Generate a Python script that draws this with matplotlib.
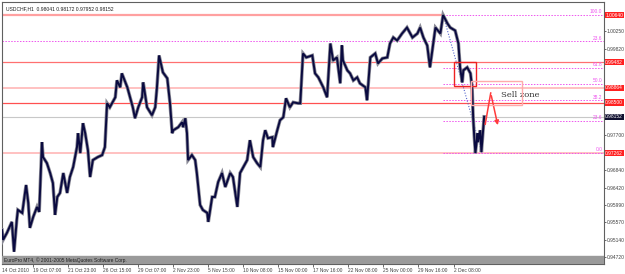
import matplotlib
matplotlib.use("Agg")
import matplotlib.pyplot as plt
from matplotlib.patches import Rectangle

plt.rcParams["font.family"] = ["Liberation Sans Narrow", "Liberation Sans", "DejaVu Sans"]

# bar index (H1 bars) and price
bar_idx = [0, 2, 9, 18, 22, 27, 29, 37, 44, 48, 51, 57, 64, 68, 73, 75, 82, 88, 93, 97,
           101, 106, 112, 119, 124, 130, 137, 139, 143, 148, 152, 157, 161, 166, 175, 183,
           188, 192, 197, 207, 210, 216, 219, 229, 234, 239, 243, 249, 256, 258, 265, 274,
           280, 283, 287, 294, 302, 303, 307, 311, 313, 322, 329, 331, 335, 338, 340, 347,
           353, 356, 362, 367, 375, 377, 384, 389, 395, 402, 408, 417, 422, 430, 435, 441,
           448, 453, 459, 466, 472, 477, 481, 486, 494, 495, 503, 508, 514, 519, 526, 532,
           541, 545, 550, 556, 567, 572, 578, 587, 594, 600, 605, 612, 618, 621, 623, 631,
           636, 642, 649, 654, 664, 667, 673, 682, 687, 695, 704, 709, 715, 722, 731, 740,
           750, 759, 764, 770, 777, 782, 792, 801, 806, 814, 819, 828, 834, 837, 841, 843,
           850, 856, 859, 861, 863, 865, 869, 870, 874, 876, 881]
price = [0.95384, 0.95140, 0.95311, 0.95579, 0.94848, 0.95628, 0.95872, 0.95799, 0.96482,
         0.96043, 0.95433, 0.95701, 0.95945, 0.95823, 0.97531, 0.97165, 0.97018, 0.96775,
         0.96531, 0.95750, 0.96189, 0.96287, 0.96775, 0.96287, 0.96677, 0.96921, 0.97409,
         0.97750, 0.97262, 0.97994, 0.97750, 0.97335, 0.96677, 0.97092, 0.97165, 0.97214,
         0.97409, 0.98482, 0.98384, 0.98628, 0.99043, 0.98872, 0.99214, 0.98872, 0.98628,
         0.98384, 0.98116, 0.98384, 0.98628, 0.98994, 0.98384, 0.98189, 0.98384, 0.98848,
         0.99653, 0.99238, 0.99092, 0.98970, 0.98482, 0.97750, 0.97823, 0.97896, 0.98018,
         0.97896, 0.98116, 0.97750, 0.97092, 0.97214, 0.97092, 0.96775, 0.95994, 0.95872,
         0.95799, 0.95579, 0.96189, 0.96189, 0.96555, 0.96775, 0.96433, 0.96775, 0.96677,
         0.95945, 0.96775, 0.96921, 0.97092, 0.97579, 0.97165, 0.97018, 0.96921, 0.97579,
         0.97823, 0.97628, 0.97653, 0.97409, 0.97823, 0.98067, 0.98140, 0.98604, 0.98384,
         0.98506, 0.98482, 0.98482, 0.99701, 0.99604, 0.99653, 0.99214, 0.99116, 0.98872,
         0.98628, 0.99945, 0.99531, 0.99604, 0.98970, 0.99896, 0.99531, 0.99287, 0.99214,
         0.99043, 0.99116, 0.98970, 0.98872, 0.98555, 0.99604, 0.99701, 0.99457, 0.99579,
         0.99604, 0.99945, 1.00092, 1.00018, 1.00189, 1.00335, 1.00092, 1.00189, 1.00335,
         1.00092, 0.99896, 0.99360, 1.00335, 1.00189, 1.00640, 1.00433, 1.00335, 1.00262,
         0.99945, 0.99360, 0.98994, 0.99287, 0.99360, 0.99214, 0.98872, 0.98116, 0.97653,
         0.97262, 0.97750, 0.97531, 0.97823, 0.97287, 0.98152]

tick_pos = [57, 121, 185, 249, 313, 377, 441, 505, 569, 633, 697, 761, 825]
tick_lbl = ["19 Oct 07:00", "21 Oct 23:00", "26 Oct 15:00", "29 Oct 07:00", "2 Nov 23:00",
            "5 Nov 15:00", "10 Nov 08:00", "15 Nov 00:00", "17 Nov 16:00", "22 Nov 08:00",
            "25 Nov 00:00", "29 Nov 16:00", "2 Dec 08:00"]
# price scale ticks that are not hidden behind the level labels
y_ticks = [1.00250, 0.99820, 0.97700, 0.96840, 0.96420, 0.95990, 0.95570, 0.95140, 0.94720]

# horizontal support/resistance lines
hlines = [1.00640, 0.99482, 0.98864, 0.98500, 0.97262]
hline_col = ["#ffa0a0", "#ff7070", "#ffb0b0", "#ff5050", "#ffb0b0"]
hline_lbl = ["1.00640", "0.99482", "0.98864", "0.98500", "0.97262"]
bid = 0.98152

# fibonacci levels (from the top at bar 806 to the low at bar 876)
fib_hi, fib_lo = 1.00640, 0.97262
fib_pct = [100.0, 61.8, 50.0, 38.2, 23.6, 0.0]
fib_start = 806
extra_fib = 0.99994

fs = 3.5

fig = plt.figure(figsize=(6.25, 2.74), dpi=100)
ax = fig.add_axes([2 / 625, 10 / 274, 602 / 625, 262 / 274])
ax.set_xlim(0, 1100)
ax.set_ylim(0.94549, 1.00960)

# lines
for i, (lv, c) in enumerate(zip(hlines, hline_col)):
    if i == 0:
        ax.plot([0, fib_start], [lv, lv], color=c, lw=1.6, zorder=1)
    else:
        ax.axhline(lv, color=c, lw=1.1 if c == "#ffb0b0" else 0.9, zorder=1)
ax.axhline(bid, color="#c8c8c8", lw=0.8, zorder=1)

fib_col = "#ee55ee"
ax.axhline(extra_fib, color=fib_col, lw=0.7, ls=(0, (1.5, 1.5)), zorder=1)
ax.text(1097, extra_fib + 0.0002, "23.6", color=fib_col, fontsize=fs, ha="right", va="bottom")
for pct in fib_pct:
    lv = fib_lo + (fib_hi - fib_lo) * pct / 100
    ax.plot([fib_start, 1100], [lv, lv], color=fib_col, lw=0.7, ls=(0, (1.5, 1.5)), zorder=2)
    ax.text(1097, lv + 0.0002, "%.1f" % pct, color=fib_col, fontsize=fs, ha="right", va="bottom")

# fib diagonal
ax.plot([806, 877], [fib_hi, fib_lo], color="#5566cc", lw=0.8, ls=(0, (1, 1.5)), zorder=2)

# price
ax.plot(bar_idx, price, color="#8a8a96", lw=2.5, solid_joinstyle="miter", zorder=3)
ax.plot(bar_idx, price, color="#0a0a40", lw=1.4, solid_joinstyle="miter", zorder=4)

# boxes
ax.add_patch(Rectangle((826, 0.98896), 40, 0.99482 - 0.98896, fill=False, ec="#ee2222", lw=1.0, zorder=5))
ax.add_patch(Rectangle((857, 0.98433), 94, 0.99018 - 0.98433, fill=False, ec="#ffaaaa", lw=1.0, zorder=5))
ax.text(912, 0.98680, "Sell zone", family="DejaVu Serif", fontsize=6.0, color="#333333", va="center")
ax.annotate("", xy=(907, 0.97880), xytext=(893, 0.98733),
            arrowprops=dict(arrowstyle="-|>", color="#ff3b3b", lw=1.1, mutation_scale=6))
ax.plot([883, 893], [0.97970, 0.98733], color="#ff3b3b", lw=1.1, zorder=5)

# bottom grey strip with copyright text
ax.add_patch(Rectangle((0, 0.003), 1, 0.027, transform=ax.transAxes, color="#9a9a9a", zorder=6))
ax.text(0.004, 0.016, "EuroPro MT4, \u00a9 2001-2005 MetaQuotes Software Corp.", transform=ax.transAxes,
        fontsize=fs, color="#202020", va="center", zorder=7)

# title
ax.text(0.006, 0.985, "USDCHF,H1  0.98041 0.98172 0.97952 0.98152", transform=ax.transAxes,
        fontsize=fs + 0.1, color="#202020", va="top")

# axes styling
ax.yaxis.tick_right()
ax.set_yticks(y_ticks)
ax.set_yticklabels(["%.5f" % v for v in y_ticks], fontsize=fs, color="#404040")
ax.set_xticks(tick_pos)
ax.set_xticklabels(tick_lbl, fontsize=fs, color="#404040", ha="left")
ax.tick_params(axis="both", length=2, width=0.6, color="#505050", pad=1)
ax.tick_params(axis="y", length=1.5, pad=0.6)
ax.text(0, -0.015, "14 Oct 2010", transform=ax.transAxes, fontsize=fs, color="#404040",
        ha="left", va="top")
for s in ax.spines.values():
    s.set_color("#606060")
    s.set_linewidth(0.8)

# right-side price labels
for lv, lbl in zip(hlines, hline_lbl):
    ax.text(1.002, lv, lbl, transform=ax.get_yaxis_transform(), fontsize=fs, color="white",
            va="center", ha="left", clip_on=False, zorder=10,
            bbox=dict(boxstyle="square,pad=0.12", fc="#ff2020", ec="none"))
ax.text(1.002, bid, "%.5f" % bid, transform=ax.get_yaxis_transform(), fontsize=fs, color="white",
        va="center", ha="left", clip_on=False, zorder=10,
        bbox=dict(boxstyle="square,pad=0.12", fc="#101030", ec="none"))

fig.savefig("out.png", dpi=100)
